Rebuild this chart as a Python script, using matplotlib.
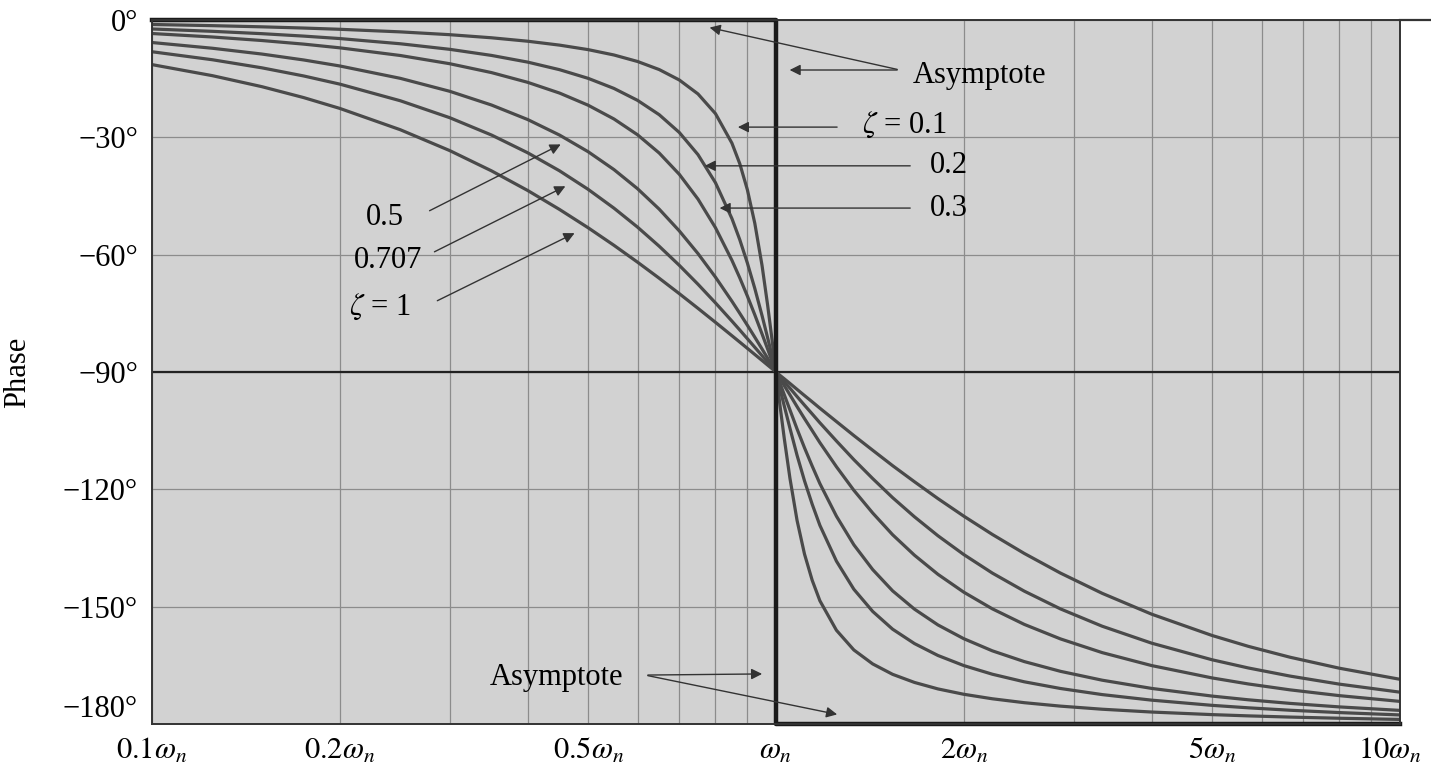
import numpy as np
import matplotlib
matplotlib.use("Agg")
from matplotlib import pyplot as plt
from matplotlib.ticker import LogLocator, NullFormatter
from matplotlib.lines import Line2D
from matplotlib.transforms import ScaledTranslation

plt.rcParams['font.family'] = ['Liberation Serif', 'DejaVu Serif']
plt.rcParams['mathtext.fontset'] = 'stix'

# frequency ratio w/wn
w = [0.1, 0.125, 0.15, 0.175, 0.2, 0.25, 0.3, 0.35, 0.4, 0.45, 0.5, 0.55, 0.6, 0.65, 0.7,
     0.75, 0.8, 0.85, 0.875, 0.9, 0.925, 0.95, 0.97, 0.985, 1.0,
     1.015, 1.031, 1.053, 1.081, 1.111, 1.143, 1.176, 1.25, 1.333, 1.429, 1.538, 1.667,
     1.818, 2.0, 2.222, 2.5, 2.857, 3.333, 4.0, 5.0, 5.714, 6.667, 8.0, 10.0]

# phase in degrees for each damping ratio
phase_01 = [-1.16, -1.46, -1.76, -2.07, -2.39, -3.05, -3.77, -4.56, -5.44, -6.44, -7.59, -8.96,
            -10.62, -12.69, -15.35, -18.92, -23.96, -31.5, -36.75, -43.45, -52.03, -62.8, -73.06,
            -81.41, -90.0,
            -98.59, -106.94, -117.2, -127.97, -136.55, -143.25, -148.5, -156.04, -161.08, -164.65,
            -167.31, -169.38, -171.04, -172.41, -173.56, -174.56, -175.44, -176.23, -176.95,
            -177.61, -177.93, -178.24, -178.54, -178.84]
phase_02 = [-2.31, -2.91, -3.51, -4.13, -4.76, -6.09, -7.51, -9.07, -10.78, -12.72, -14.93, -17.51,
            -20.56, -24.23, -28.77, -34.44, -41.63, -50.78, -56.19, -62.18, -68.68, -75.61, -81.34,
            -85.68, -90.0,
            -94.32, -98.66, -104.39, -111.32, -117.82, -123.81, -129.22, -138.37, -145.56, -151.23,
            -155.77, -159.44, -162.49, -165.07, -167.28, -169.22, -170.93, -172.49, -173.91,
            -175.24, -175.87, -176.49, -177.09, -177.69]
phase_03 = [-3.47, -4.36, -5.26, -6.18, -7.13, -9.09, -11.19, -13.46, -15.95, -18.70, -21.80, -25.32,
            -29.36, -34.03, -39.47, -45.81, -53.13, -61.45, -65.94, -70.62, -75.42, -80.29, -84.20,
            -87.12, -90.0,
            -92.88, -95.80, -99.71, -104.58, -109.38, -114.06, -118.55, -126.87, -134.19, -140.53,
            -145.97, -150.64, -154.68, -158.20, -161.30, -164.05, -166.54, -168.81, -170.91,
            -172.87, -173.82, -174.74, -175.64, -176.53]
phase_05 = [-5.77, -7.24, -8.72, -10.23, -11.77, -14.93, -18.24, -21.75, -25.46, -29.44, -33.69, -38.26,
            -43.15, -48.38, -53.94, -59.74, -65.77, -71.92, -75.01, -78.08, -81.13, -84.14, -86.51,
            -88.27, -90.0,
            -91.73, -93.49, -95.86, -98.87, -101.92, -104.99, -108.08, -114.23, -120.26, -126.06,
            -131.62, -136.85, -141.74, -146.31, -150.56, -154.54, -158.25, -161.76, -165.07,
            -168.23, -169.77, -171.28, -172.76, -174.23]
phase_0707 = [-8.13, -10.18, -12.24, -14.32, -16.41, -20.66, -24.99, -29.42, -33.96, -38.58, -43.31,
              -48.12, -52.97, -57.86, -62.74, -67.58, -72.35, -77.0, -79.27, -81.51, -83.70, -85.85,
              -87.53, -88.78, -90.0,
              -91.22, -92.47, -94.15, -96.30, -98.49, -100.73, -103.0, -107.65, -112.42, -117.26,
              -122.14, -127.03, -131.88, -136.69, -141.42, -146.04, -150.58, -155.01, -159.34,
              -163.59, -165.68, -167.76, -169.82, -171.87]
phase_1 = [-11.42, -14.25, -17.06, -19.85, -22.62, -28.07, -33.40, -38.58, -43.60, -48.46, -53.13,
           -57.62, -61.93, -66.04, -69.98, -73.74, -77.32, -80.73, -82.37, -83.97, -85.54, -87.06,
           -88.26, -89.13, -90.0,
           -90.87, -91.74, -92.94, -94.46, -96.03, -97.63, -99.27, -102.68, -106.26, -110.02,
           -113.96, -118.07, -122.38, -126.87, -131.54, -136.40, -141.42, -146.60, -151.93,
           -157.38, -160.15, -162.94, -165.75, -168.58]

# asymptote corners
asym_w = [0.1, 1.0, 1.0, 10.0]
asym_phase = [0, 0, -180, -180]

xtick_vals = [0.1, 0.2, 0.5, 1, 2, 5, 10]
xtick_labels = [r'$0.1\omega_n$', r'$0.2\omega_n$', r'$0.5\omega_n$', r'$\omega_n$',
                r'$2\omega_n$', r'$5\omega_n$', r'$10\omega_n$']
ytick_vals = [0, -30, -60, -90, -120, -150, -180]
ytick_labels = ['0°', '−30°', '−60°', '−90°', '−120°', '−150°', '−180°']

fig = plt.figure(figsize=(14.31, 7.64), dpi=100)
ax = fig.add_axes([0.1062, 0.0524, 0.8721, 0.9215])
ax.set_facecolor('#d2d2d2')

ax.set_xscale('log')
ax.set_xlim(0.1, 10)
ax.set_ylim(-180, 0)

ax.xaxis.set_minor_locator(LogLocator(subs=range(2, 10)))
ax.xaxis.set_minor_formatter(NullFormatter())
ax.set_xticks(xtick_vals)
ax.set_xticklabels(xtick_labels)
ax.set_yticks(ytick_vals)
ax.set_yticklabels(ytick_labels)
ax.tick_params(which='both', length=0, labelsize=22)
ax.tick_params(axis='x', pad=9)
ax.tick_params(axis='y', pad=10)

# bottom phase label sits a little above the axis line, last freq label pulled in
ax.get_yticklabels()[-1].set_verticalalignment('bottom')
last = ax.get_xticklabels()[-1]
last.set_transform(last.get_transform() + ScaledTranslation(-0.1, 0, fig.dpi_scale_trans))

ax.grid(True, which='both', axis='x', color='#8c8c8c', lw=0.9)
ax.grid(True, which='major', axis='y', color='#8c8c8c', lw=0.9)
ax.axhline(-90, color='#222222', lw=1.6)

for s in ax.spines.values():
    s.set_color('#333333')
    s.set_linewidth(1.4)

for ph in [phase_01, phase_02, phase_03, phase_05, phase_0707, phase_1]:
    ax.plot(w, ph, color='#4a4a4a', lw=2.3, solid_capstyle='round', solid_joinstyle='round')

ax.plot(asym_w, asym_phase, color='#1a1a1a', lw=3.2, clip_on=False)

# top line runs past the plot to the page edge
fig.add_artist(Line2D([0.978, 1.0], [0.9738, 0.9738], color='#333333', lw=1.6))

ax.set_ylabel('Phase', fontsize=22, labelpad=22)

arrow = dict(arrowstyle='-|>', color='#333333', lw=1.0, mutation_scale=16)
fs = 22

ax.text(1.658, -14.1, 'Asymptote', fontsize=fs, va='center', ha='left')
ax.annotate('', xy=(0.775, -1.8), xytext=(1.58, -12.8), arrowprops=arrow)
ax.annotate('', xy=(1.041, -12.8), xytext=(1.58, -12.8), arrowprops=arrow)

ax.text(1.373, -26.8, r'$\zeta$ = 0.1', fontsize=fs, va='center', ha='left')
ax.annotate('', xy=(0.86, -27.4), xytext=(1.266, -27.4), arrowprops=arrow)
ax.text(1.765, -37.1, '0.2', fontsize=fs, va='center', ha='left')
ax.annotate('', xy=(0.761, -37.3), xytext=(1.658, -37.3), arrowprops=arrow)
ax.text(1.765, -48.1, '0.3', fontsize=fs, va='center', ha='left')
ax.annotate('', xy=(0.804, -48.1), xytext=(1.658, -48.1), arrowprops=arrow)

ax.text(0.236, -50.6, '0.5', fontsize=fs, va='center', ha='center')
ax.annotate('', xy=(0.456, -31.5), xytext=(0.276, -49.1), arrowprops=arrow)
ax.text(0.239, -61.4, '0.707', fontsize=fs, va='center', ha='center')
ax.annotate('', xy=(0.464, -42.2), xytext=(0.281, -59.6), arrowprops=arrow)
ax.text(0.232, -73.4, r'$\zeta$ = 1', fontsize=fs, va='center', ha='center')
ax.annotate('', xy=(0.48, -54.2), xytext=(0.284, -72.1), arrowprops=arrow)

ax.text(0.348, -168.0, 'Asymptote', fontsize=fs, va='center', ha='left')
ax.annotate('', xy=(0.96, -167.2), xytext=(0.617, -167.5), arrowprops=arrow)
ax.annotate('', xy=(1.266, -177.7), xytext=(0.617, -167.5), arrowprops=arrow)

fig.savefig('out.png', dpi=100)
